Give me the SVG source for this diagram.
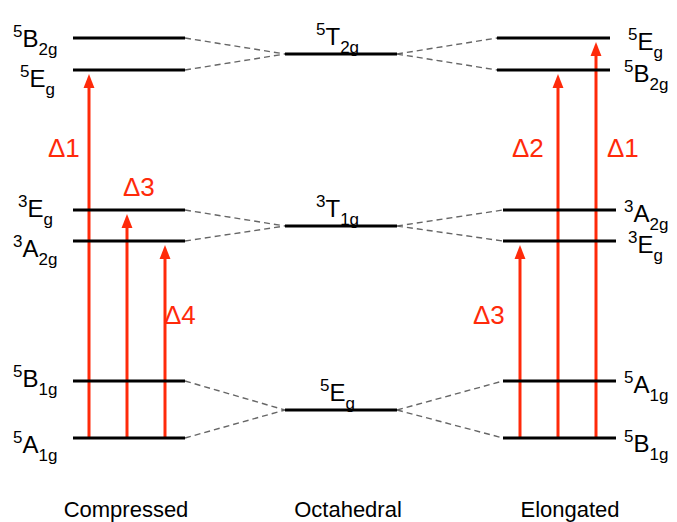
<svg xmlns="http://www.w3.org/2000/svg" width="677" height="522" viewBox="0 0 677 522">
<style>
.lvl{stroke:#000;stroke-width:3;fill:none}
.dash{stroke:#666;stroke-width:1.4;stroke-dasharray:6 4;fill:none}
.arr{stroke:#ff2a0a;stroke-width:3;fill:none;marker-end:url(#ah)}
text{font-family:"Liberation Sans",Arial,sans-serif;fill:#000;font-size:24px}
.s{font-size:17px}
.d{fill:#ff2a0a;font-size:26px}
.cap{font-size:22px}
</style>
<defs>
<marker id="ah" markerUnits="userSpaceOnUse" markerWidth="14" markerHeight="20" refX="0" refY="7" orient="auto" viewBox="0 0 18 14">
<path d="M0,0 L18,7 L0,14 z" fill="#ff2a0a"/>
</marker>
</defs>
<rect width="677" height="522" fill="#fff"/>
<g id="connectors">
<path class="dash" d="M185,38 L285,54 M185,70 L285,54 M185,210 L285,226 M185,241 L285,226 M185,381 L285,410 M185,438 L285,410"/>
<path class="dash" d="M397,54 L497,38 M397,54 L497,70 M397,226 L503,210 M397,226 L503,241 M397,410 L503,381 M397,410 L503,438"/>
<path class="arr" d="M89,438 L89,88"/>
<path class="arr" d="M127,438 L127,228"/>
<path class="arr" d="M165,438 L165,259"/>
<path class="arr" d="M520,438 L520,259"/>
<path class="arr" d="M558,438 L558,88"/>
<path class="arr" d="M596,438 L596,56"/>
</g>
<g id="compressed">
<g id="c5B2g"><line class="lvl" x1="73" y1="38" x2="185" y2="38"/><text x="13"><tspan class="s" y="37">5</tspan><tspan y="47">B</tspan><tspan class="s" y="55">2g</tspan></text></g>
<g id="c5Eg"><line class="lvl" x1="73" y1="70" x2="185" y2="70"/><text x="20"><tspan class="s" y="77">5</tspan><tspan y="87">E</tspan><tspan class="s" y="95">g</tspan></text></g>
<g id="c3Eg"><line class="lvl" x1="73" y1="210" x2="185" y2="210"/><text x="18"><tspan class="s" y="207">3</tspan><tspan y="217">E</tspan><tspan class="s" y="225">g</tspan></text></g>
<g id="c3A2g"><line class="lvl" x1="73" y1="241" x2="185" y2="241"/><text x="13"><tspan class="s" y="247">3</tspan><tspan y="257">A</tspan><tspan class="s" y="265">2g</tspan></text></g>
<g id="c5B1g"><line class="lvl" x1="73" y1="381" x2="185" y2="381"/><text x="13"><tspan class="s" y="377">5</tspan><tspan y="387">B</tspan><tspan class="s" y="395">1g</tspan></text></g>
<g id="c5A1g"><line class="lvl" x1="73" y1="438" x2="185" y2="438"/><text x="13"><tspan class="s" y="443">5</tspan><tspan y="453">A</tspan><tspan class="s" y="461">1g</tspan></text></g>
</g>
<g id="octahedral">
<g id="o5T2g"><line class="lvl" x1="285" y1="54" x2="397" y2="54"/><text x="316"><tspan class="s" y="35">5</tspan><tspan y="45">T</tspan><tspan class="s" y="53">2g</tspan></text></g>
<g id="o3T1g"><line class="lvl" x1="285" y1="226" x2="397" y2="226"/><text x="316"><tspan class="s" y="207">3</tspan><tspan y="217">T</tspan><tspan class="s" y="225">1g</tspan></text></g>
<g id="o5Eg"><line class="lvl" x1="285" y1="410" x2="397" y2="410"/><text x="320"><tspan class="s" y="391">5</tspan><tspan y="401">E</tspan><tspan class="s" y="409">g</tspan></text></g>
</g>
<g id="elongated">
<g id="e5Eg"><line class="lvl" x1="497" y1="38" x2="610" y2="38"/><text x="628"><tspan class="s" y="40">5</tspan><tspan y="50">E</tspan><tspan class="s" y="58">g</tspan></text></g>
<g id="e5B2g"><line class="lvl" x1="497" y1="70" x2="610" y2="70"/><text x="624"><tspan class="s" y="72">5</tspan><tspan y="82">B</tspan><tspan class="s" y="90">2g</tspan></text></g>
<g id="e3A2g"><line class="lvl" x1="503" y1="210" x2="616" y2="210"/><text x="624"><tspan class="s" y="212">3</tspan><tspan y="222">A</tspan><tspan class="s" y="230">2g</tspan></text></g>
<g id="e3Eg"><line class="lvl" x1="503" y1="241" x2="616" y2="241"/><text x="628"><tspan class="s" y="243">3</tspan><tspan y="253">E</tspan><tspan class="s" y="261">g</tspan></text></g>
<g id="e5A1g"><line class="lvl" x1="503" y1="381" x2="616" y2="381"/><text x="624"><tspan class="s" y="383">5</tspan><tspan y="393">A</tspan><tspan class="s" y="401">1g</tspan></text></g>
<g id="e5B1g"><line class="lvl" x1="503" y1="438" x2="616" y2="438"/><text x="624"><tspan class="s" y="442">5</tspan><tspan y="452">B</tspan><tspan class="s" y="460">1g</tspan></text></g>
</g>
<g id="deltas">
<text class="d" x="48" y="157">Δ1</text>
<text class="d" x="123" y="196">Δ3</text>
<text class="d" x="164" y="324">Δ4</text>
<text class="d" x="512" y="157">Δ2</text>
<text class="d" x="607" y="157">Δ1</text>
<text class="d" x="473" y="324">Δ3</text>
</g>
<g id="captions">
<text class="cap" x="126" y="517" text-anchor="middle">Compressed</text>
<text class="cap" x="348" y="517" text-anchor="middle">Octahedral</text>
<text class="cap" x="570" y="517" text-anchor="middle">Elongated</text>
</g>
</svg>
